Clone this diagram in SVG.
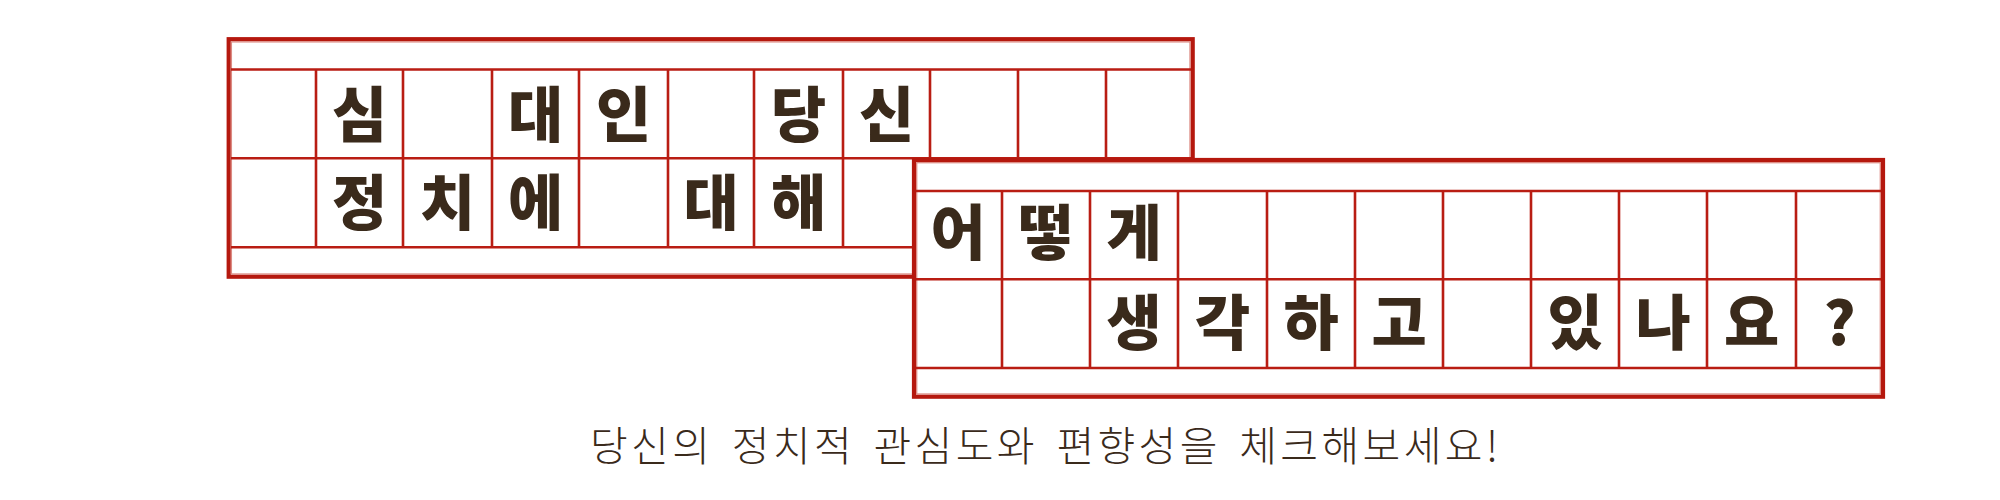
<svg xmlns="http://www.w3.org/2000/svg" width="2000" height="500" viewBox="0 0 2000 500">
  <style>
    .frame { fill: #ffffff; stroke: #b5180e; stroke-width: 4.2; }
    .inner { fill: none; stroke: #dc8b83; stroke-width: 1.3; }
    .grid { stroke: #b91d13; stroke-width: 2.6; fill: none; }
    .ch { font-family: "Noto Sans CJK KR", "Noto Sans", sans-serif; font-weight: 900; font-size: 60px; fill: #3a2a1b; text-anchor: middle; }
    .cap { font-family: "Noto Sans CJK KR", "Noto Sans", sans-serif; font-weight: 300; font-size: 41px; fill: #3a2a1b; word-spacing: 6px; }
  </style>
  <rect width="2000" height="500" fill="#ffffff"/>

  <g id="panel1">
    <rect class="frame" x="228.7" y="39.2" width="964" height="237.5"/>
    <rect class="inner" x="231.4" y="41.9" width="958.6" height="232.1"/>
    <path class="grid" d="M231 69.5H1191M231 158.3H1191M231 247.3H1191
      M316 69.5V247.3M403 69.5V247.3M492 69.5V247.3M579 69.5V247.3M668 69.5V247.3
      M754 69.5V247.3M843 69.5V247.3M930 69.5V247.3M1018 69.5V247.3M1106 69.5V247.3"/>
    <text class="ch" x="359.5" y="137">심</text>
    <text class="ch" x="535.5" y="137">대</text>
    <text class="ch" x="623.5" y="137">인</text>
    <text class="ch" x="798.5" y="137">당</text>
    <text class="ch" x="886.5" y="137">신</text>
    <text class="ch" x="359.5" y="225">정</text>
    <text class="ch" x="447.5" y="225">치</text>
    <text class="ch" x="535.5" y="225">에</text>
    <text class="ch" x="711" y="225">대</text>
    <text class="ch" x="798.5" y="225">해</text>
  </g>

  <g id="panel2">
    <rect class="frame" x="914" y="160" width="969" height="236.7"/>
    <rect class="inner" x="916.7" y="162.7" width="963.6" height="231.3"/>
    <path class="grid" d="M916 191H1881M916 279.3H1881M916 368H1881
      M1002 191V368M1090 191V368M1178 191V368M1267 191V368M1355 191V368
      M1443 191V368M1531 191V368M1619 191V368M1707 191V368M1796 191V368"/>
    <text class="ch" x="958" y="255">어</text>
    <text class="ch" x="1046" y="255">떻</text>
    <text class="ch" x="1134" y="255">게</text>
    <text class="ch" x="1134" y="345">생</text>
    <text class="ch" x="1222.5" y="345">각</text>
    <text class="ch" x="1311" y="345">하</text>
    <text class="ch" x="1399" y="345">고</text>
    <text class="ch" x="1575" y="345">있</text>
    <text class="ch" x="1663" y="345">나</text>
    <text class="ch" x="1751.5" y="345">요</text>
    <text class="ch" x="1839.5" y="345">?</text>
  </g>

  <g id="caption">
    <text class="cap" x="590" y="461" textLength="908" lengthAdjust="spacing">당신의 정치적 관심도와 편향성을 체크해보세요!</text>
  </g>
</svg>
